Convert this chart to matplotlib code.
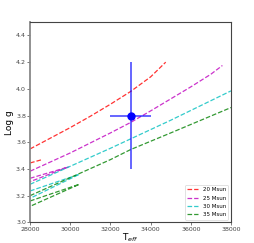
import numpy as np
import matplotlib
matplotlib.use('Agg')
import matplotlib.pyplot as plt

# main tracks (Teff, log g)
masses = ['20 Msun', '25 Msun', '30 Msun', '35 Msun']
colors = ['r', 'm', 'c', 'g']

teff_main = [
    [28000, 29000, 30000, 31000, 32000, 33000, 34000, 34750],
    [28000, 30000, 32000, 33000, 34000, 35000, 36000, 37000, 37570],
    [28000, 30000, 32000, 33000, 35000, 38000],
    [28000, 30000, 32000, 33000, 35000, 38000],
]
logg_main = [
    [3.55, 3.63, 3.71, 3.795, 3.885, 3.98, 4.09, 4.20],
    [3.383, 3.52, 3.67, 3.748, 3.835, 3.925, 4.015, 4.11, 4.175],
    [3.285, 3.42, 3.555, 3.625, 3.765, 3.985],
    [3.20, 3.335, 3.47, 3.545, 3.67, 3.86],
]

# hook segments near the left edge
teff_hook = [
    [28000, 28600],
    [28000, 29900, 28000],
    [28000, 30450, 28000],
    [28000, 30450, 28000],
]
logg_hook = [
    [3.445, 3.47],
    [3.33, 3.415, 3.305],
    [3.235, 3.36, 3.18],
    [3.16, 3.285, 3.12],
]

# observed star
star_teff, star_teff_err = 33000, 1000
star_logg, star_logg_err = 3.8, 0.4

fig = plt.figure(figsize=(2.55, 2.43), dpi=100)
ax = fig.add_axes([0.118, 0.085, 0.788, 0.824])

for i in range(len(masses)):
    ax.plot(teff_main[i], logg_main[i], '--', color=colors[i], lw=0.9, alpha=0.8, label=masses[i])
    ax.plot(teff_hook[i], logg_hook[i], '--', color=colors[i], lw=0.9, alpha=0.8)

ax.errorbar(star_teff, star_logg, xerr=star_teff_err, yerr=star_logg_err,
            fmt='o', color='blue', ms=5, elinewidth=1.3, ecolor=(0, 0, 1, 0.65))

ax.set_xlim(28000, 38000)
ax.set_ylim(3.0, 4.5)
ax.set_xticks(np.arange(28000, 38001, 2000))
ax.set_yticks(np.arange(3.0, 4.41, 0.2))
ax.tick_params(labelsize=4.5, colors='#444444', length=2, width=0.5, pad=1)
for s in ax.spines.values():
    s.set_color('#444444')
    s.set_linewidth(0.8)
ax.spines['left'].set_color('#888888')
ax.spines['left'].set_linewidth(1.3)

ax.set_xlabel('T$_{eff}$', fontsize=6.5, labelpad=0)
ax.set_ylabel('Log g', fontsize=6.5, labelpad=1.5)

leg = ax.legend(loc='lower right', fontsize=4, handlelength=2, labelspacing=0.6)
leg.get_frame().set_linewidth(0.5)

fig.savefig('out.png', dpi=100)
